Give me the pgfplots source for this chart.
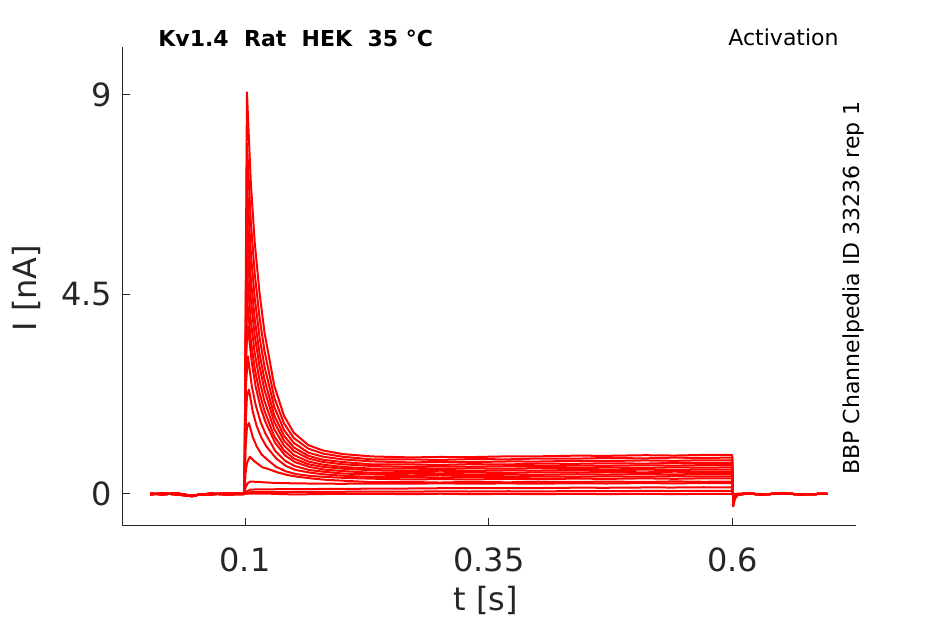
\documentclass[border=0pt]{standalone}
\usepackage{pgfplots}
\pgfplotsset{compat=1.18}
\usepackage{fontspec}
\setmainfont{DejaVu Sans}
\definecolor{axgray}{HTML}{262626}
\pgfplotsset{trace/.style={color=red, line width=1pt, line join=round, mark=none}}
\begin{document}
\begin{tikzpicture}
\useasboundingbox (-61pt,-49pt) rectangle (411.5pt,263pt);
\begin{axis}[
  at={(0,0)}, anchor=south west,
  scale only axis, width=367pt, height=239.5pt,
  xmin=-0.0261, xmax=0.7264, ymin=-0.721, ymax=10.07,
  axis lines=left, axis line style={-, draw=axgray, line width=0.5pt},
  tick align=inside, major tick length=3.8pt,
  tick style={draw=axgray, line width=0.5pt},
  xtick={0.1,0.35,0.6}, ytick={0,4.5,9},
  xticklabels={0.1,0.35,0.6}, yticklabels={0,4.5,9},
  ticklabel style={font=\fontsize{16}{19}\selectfont, text=axgray},
  xticklabel style={anchor=base, yshift=-23pt},
  yticklabel style={anchor=east, xshift=-1.5pt},
]
% T1
\addplot[trace] coordinates {(0.003,0.01) (0.015,-0.01) (0.03,0.015) (0.045,-0.04) (0.052,-0.02) (0.065,0.01) (0.08,-0.01) (0.0995,0.0)
 (0.102,9.05) (0.106,6.99) (0.110,5.66) (0.115,4.51) (0.120,3.64) (0.130,2.44) (0.140,1.76) (0.150,1.38) (0.165,1.10) (0.180,0.98) (0.200,0.90)
 (0.23,0.846) (0.27,0.824) (0.30,0.834) (0.33,0.831) (0.37,0.848) (0.40,0.848) (0.44,0.864) (0.47,0.859) (0.51,0.874) (0.54,0.866) (0.57,0.88) (0.5995,0.88)
 (0.6005,-0.28) (0.602,-0.12) (0.605,-0.02) (0.615,0.01) (0.63,-0.01) (0.65,0.012) (0.67,-0.008) (0.697,0.005)};
% T2
\addplot[trace] coordinates {(0.003,-0.01) (0.015,0.015) (0.03,-0.01) (0.046,-0.05) (0.053,-0.01) (0.065,-0.01) (0.08,0.015) (0.0995,0.01)
 (0.102,7.9) (0.106,6.11) (0.110,4.96) (0.115,3.96) (0.120,3.22) (0.130,2.17) (0.140,1.59) (0.150,1.26) (0.165,1.02) (0.180,0.91) (0.200,0.84)
 (0.23,0.78) (0.27,0.779) (0.30,0.766) (0.33,0.786) (0.37,0.781) (0.40,0.799) (0.44,0.797) (0.47,0.81) (0.51,0.803) (0.54,0.819) (0.57,0.812) (0.5995,0.82)
 (0.6005,-0.26) (0.602,-0.11) (0.605,-0.02) (0.615,0.01) (0.63,-0.01) (0.65,0.012) (0.67,-0.008) (0.697,0.005)};
% T3
\addplot[trace] coordinates {(0.003,0.01) (0.015,-0.01) (0.03,0.015) (0.045,-0.04) (0.052,-0.02) (0.065,0.01) (0.08,-0.01) (0.0995,0.0)
 (0.102,7.0) (0.106,5.42) (0.110,4.41) (0.115,3.52) (0.120,2.87) (0.130,1.96) (0.140,1.44) (0.150,1.15) (0.165,0.93) (0.180,0.84) (0.200,0.78)
 (0.23,0.734) (0.27,0.712) (0.30,0.721) (0.33,0.717) (0.37,0.733) (0.40,0.731) (0.44,0.747) (0.47,0.742) (0.51,0.756) (0.54,0.747) (0.57,0.76) (0.5995,0.76)
 (0.6005,-0.24) (0.602,-0.10) (0.605,-0.02) (0.615,0.01) (0.63,-0.01) (0.65,0.012) (0.67,-0.008) (0.697,0.005)};
% T4
\addplot[trace] coordinates {(0.003,-0.01) (0.015,0.015) (0.03,-0.01) (0.046,-0.05) (0.053,-0.01) (0.065,-0.01) (0.08,0.015) (0.0995,0.01)
 (0.102,6.24) (0.106,4.84) (0.110,3.94) (0.115,3.15) (0.120,2.58) (0.130,1.77) (0.140,1.31) (0.150,1.05) (0.165,0.86) (0.180,0.77) (0.200,0.72)
 (0.23,0.667) (0.27,0.666) (0.30,0.653) (0.33,0.672) (0.37,0.666) (0.40,0.683) (0.44,0.68) (0.47,0.692) (0.51,0.685) (0.54,0.70) (0.57,0.693) (0.5995,0.70)
 (0.6005,-0.22) (0.602,-0.10) (0.605,-0.02) (0.615,0.01) (0.63,-0.01) (0.65,0.012) (0.67,-0.008) (0.697,0.005)};
% T5
\addplot[trace] coordinates {(0.003,0.01) (0.015,-0.01) (0.03,0.015) (0.045,-0.04) (0.052,-0.02) (0.065,0.01) (0.08,-0.01) (0.0995,0.0)
 (0.102,5.63) (0.106,4.37) (0.110,3.56) (0.115,2.86) (0.120,2.34) (0.130,1.62) (0.140,1.20) (0.150,0.97) (0.165,0.80) (0.180,0.72) (0.200,0.67)
 (0.23,0.63) (0.27,0.609) (0.30,0.618) (0.33,0.613) (0.37,0.627) (0.40,0.625) (0.44,0.64) (0.47,0.634) (0.51,0.647) (0.54,0.639) (0.57,0.651) (0.5995,0.65)
 (0.6005,-0.21) (0.602,-0.09) (0.605,-0.015) (0.615,0.01) (0.63,-0.01) (0.65,0.012) (0.67,-0.008) (0.697,0.005)};
% T6
\addplot[trace] coordinates {(0.003,-0.01) (0.015,0.015) (0.03,-0.01) (0.046,-0.05) (0.053,-0.01) (0.065,-0.01) (0.08,0.015) (0.0995,0.01)
 (0.102,5.0) (0.106,3.89) (0.110,3.17) (0.115,2.55) (0.120,2.09) (0.130,1.46) (0.140,1.09) (0.150,0.88) (0.165,0.73) (0.180,0.66) (0.200,0.61)
 (0.23,0.572) (0.27,0.572) (0.30,0.559) (0.33,0.577) (0.37,0.57) (0.40,0.586) (0.44,0.582) (0.47,0.594) (0.51,0.586) (0.54,0.601) (0.57,0.593) (0.5995,0.60)
 (0.6005,-0.19) (0.602,-0.08) (0.605,-0.01) (0.615,0.01) (0.63,-0.01) (0.65,0.012) (0.67,-0.008) (0.697,0.005)};
% T7
\addplot[trace] coordinates {(0.003,0.01) (0.015,-0.01) (0.03,0.015) (0.045,-0.04) (0.052,-0.02) (0.065,0.01) (0.08,-0.01) (0.0995,0.0)
 (0.102,4.43) (0.106,3.45) (0.110,2.82) (0.115,2.27) (0.120,1.87) (0.130,1.30) (0.140,0.98) (0.150,0.80) (0.165,0.67) (0.180,0.61) (0.200,0.57)
 (0.23,0.534) (0.27,0.515) (0.30,0.524) (0.33,0.518) (0.37,0.531) (0.40,0.528) (0.44,0.542) (0.47,0.536) (0.51,0.549) (0.54,0.54) (0.57,0.551) (0.5995,0.55)
 (0.6005,-0.175) (0.602,-0.075) (0.605,-0.01) (0.615,0.01) (0.63,-0.01) (0.65,0.012) (0.67,-0.008) (0.697,0.005)};
% T8
\addplot[trace] coordinates {(0.003,-0.01) (0.015,0.015) (0.03,-0.01) (0.046,-0.05) (0.053,-0.01) (0.065,-0.01) (0.08,0.015) (0.0995,0.01)
 (0.1005,3.0) (0.103,3.78) (0.107,2.95) (0.111,2.41) (0.116,1.95) (0.121,1.62) (0.131,1.15) (0.141,0.87) (0.151,0.72) (0.166,0.61) (0.181,0.55) (0.201,0.515)
 (0.23,0.477) (0.27,0.478) (0.30,0.465) (0.33,0.482) (0.37,0.474) (0.40,0.489) (0.44,0.485) (0.47,0.496) (0.51,0.488) (0.54,0.502) (0.57,0.494) (0.5995,0.50)
 (0.6005,-0.16) (0.602,-0.07) (0.605,-0.01) (0.615,0.01) (0.63,-0.01) (0.65,0.012) (0.67,-0.008) (0.697,0.005)};
% T9
\addplot[trace] coordinates {(0.003,0.01) (0.015,-0.01) (0.03,0.015) (0.045,-0.04) (0.052,-0.02) (0.065,0.01) (0.08,-0.01) (0.0995,0.0)
 (0.1005,2.3) (0.103,3.1) (0.107,2.43) (0.111,2.0) (0.116,1.62) (0.121,1.36) (0.131,0.97) (0.141,0.75) (0.151,0.63) (0.166,0.54) (0.181,0.50) (0.201,0.46)
 (0.23,0.44) (0.27,0.421) (0.30,0.43) (0.33,0.423) (0.37,0.435) (0.40,0.431) (0.44,0.445) (0.47,0.438) (0.51,0.45) (0.54,0.441) (0.57,0.452) (0.5995,0.45)
 (0.6005,-0.14) (0.602,-0.06) (0.605,-0.01) (0.615,0.01) (0.63,-0.01) (0.65,0.012) (0.67,-0.008) (0.697,0.005)};
% T10
\addplot[trace] coordinates {(0.003,-0.01) (0.015,0.015) (0.03,-0.01) (0.046,-0.05) (0.053,-0.01) (0.065,-0.01) (0.08,0.015) (0.0995,0.01)
 (0.1005,1.5) (0.102,2.2) (0.104,2.35) (0.108,1.85) (0.112,1.53) (0.117,1.26) (0.122,1.07) (0.132,0.80) (0.142,0.63) (0.152,0.54) (0.167,0.48) (0.182,0.44) (0.202,0.41)
 (0.23,0.382) (0.27,0.384) (0.30,0.371) (0.33,0.387) (0.37,0.378) (0.40,0.392) (0.44,0.387) (0.47,0.398) (0.51,0.389) (0.54,0.403) (0.57,0.394) (0.5995,0.40)
 (0.6005,-0.13) (0.602,-0.055) (0.605,-0.01) (0.615,0.01) (0.63,-0.01) (0.65,0.012) (0.67,-0.008) (0.697,0.005)};
% T11
\addplot[trace] coordinates {(0.003,0.01) (0.015,-0.01) (0.03,0.015) (0.045,-0.04) (0.052,-0.02) (0.065,0.01) (0.08,-0.01) (0.0995,0.0)
 (0.1005,1.0) (0.102,1.5) (0.104,1.6) (0.108,1.28) (0.112,1.07) (0.117,0.89) (0.122,0.79) (0.132,0.61) (0.142,0.51) (0.152,0.45) (0.167,0.405) (0.182,0.385) (0.202,0.363)
 (0.23,0.345) (0.27,0.327) (0.30,0.336) (0.33,0.328) (0.37,0.339) (0.40,0.334) (0.44,0.347) (0.47,0.34) (0.51,0.352) (0.54,0.342) (0.57,0.352) (0.5995,0.35)
 (0.6005,-0.11) (0.602,-0.05) (0.605,-0.005) (0.615,0.01) (0.63,-0.01) (0.65,0.012) (0.67,-0.008) (0.697,0.005)};
% T12
\addplot[trace] coordinates {(0.003,-0.01) (0.015,0.015) (0.03,-0.01) (0.046,-0.05) (0.053,-0.01) (0.065,-0.01) (0.08,0.015) (0.0995,0.01)
 (0.1005,0.45) (0.102,0.7) (0.105,0.84) (0.109,0.75) (0.113,0.68) (0.118,0.60) (0.123,0.57) (0.133,0.49) (0.143,0.43) (0.153,0.39) (0.168,0.35) (0.183,0.32) (0.203,0.296)
 (0.23,0.267) (0.27,0.27) (0.30,0.258) (0.33,0.273) (0.37,0.263) (0.40,0.276) (0.44,0.27) (0.47,0.28) (0.51,0.271) (0.54,0.284) (0.57,0.275) (0.5995,0.28)
 (0.6005,-0.09) (0.602,-0.04) (0.605,0.0) (0.615,0.01) (0.63,-0.01) (0.65,0.012) (0.67,-0.008) (0.697,0.005)};
% T13
\addplot[trace] coordinates {(0.003,0.01) (0.015,-0.01) (0.03,0.015) (0.045,-0.04) (0.052,-0.02) (0.065,0.01) (0.08,-0.01) (0.0995,0.0)
 (0.1005,0.15) (0.103,0.25) (0.106,0.28) (0.110,0.275) (0.115,0.27) (0.120,0.262) (0.130,0.25) (0.140,0.245) (0.150,0.24) (0.165,0.236) (0.180,0.232) (0.200,0.23)
 (0.23,0.235) (0.27,0.232) (0.30,0.24) (0.33,0.233) (0.37,0.238) (0.40,0.232) (0.44,0.242) (0.47,0.236) (0.51,0.246) (0.54,0.238) (0.57,0.248) (0.5995,0.245)
 (0.6005,-0.07) (0.602,-0.03) (0.605,0.0) (0.615,0.01) (0.63,-0.01) (0.65,0.012) (0.67,-0.008) (0.697,0.005)};
% T14
\addplot[trace] coordinates {(0.003,-0.01) (0.015,0.015) (0.03,-0.01) (0.046,-0.05) (0.053,-0.01) (0.065,-0.01) (0.08,0.015) (0.0995,0.01)
 (0.1005,0.04) (0.104,0.08) (0.106,0.10) (0.120,0.105) (0.150,0.11) (0.200,0.115)
 (0.23,0.12) (0.27,0.124) (0.30,0.13) (0.33,0.133) (0.37,0.135) (0.40,0.134) (0.44,0.142) (0.47,0.14) (0.51,0.147) (0.54,0.146) (0.57,0.152) (0.5995,0.15)
 (0.6005,-0.04) (0.602,-0.02) (0.605,0.0) (0.615,0.01) (0.63,-0.01) (0.65,0.012) (0.67,-0.008) (0.697,0.005)};
% T15
\addplot[trace] coordinates {(0.003,0.01) (0.015,-0.01) (0.03,0.015) (0.045,-0.04) (0.052,-0.02) (0.065,0.01) (0.08,-0.01) (0.0995,0.0)
 (0.102,0.02) (0.106,0.04) (0.150,0.045) (0.200,0.05)
 (0.23,0.055) (0.27,0.052) (0.30,0.061) (0.33,0.056) (0.37,0.062) (0.40,0.058) (0.44,0.066) (0.47,0.063) (0.51,0.07) (0.54,0.066) (0.57,0.072) (0.5995,0.07)
 (0.6005,-0.02) (0.602,-0.01) (0.605,0.0) (0.615,0.01) (0.63,-0.01) (0.65,0.012) (0.67,-0.008) (0.697,0.005)};
% T16
\addplot[trace] coordinates {(0.003,-0.01) (0.015,0.015) (0.03,-0.01) (0.046,-0.05) (0.053,-0.01) (0.065,-0.01) (0.08,0.015) (0.0995,0.01)
 (0.12,0.01) (0.15,-0.01) (0.200,0.005)
 (0.23,0.005) (0.27,-0.004) (0.30,0.006) (0.33,-0.004) (0.37,0.003) (0.40,-0.005) (0.44,0.005) (0.47,-0.003) (0.51,0.005) (0.54,-0.004) (0.57,0.004) (0.5995,0.0)
 (0.6005,0.0) (0.605,0.0) (0.615,0.01) (0.63,-0.01) (0.65,0.012) (0.67,-0.008) (0.697,0.005)};
\end{axis}
\node[anchor=base, inner sep=0pt, font=\fontsize{16}{19}\selectfont, text=axgray] at (182pt,-42.5pt) {t [s]};
\node[rotate=90, anchor=base, inner sep=0pt, font=\fontsize{16}{19}\selectfont, text=axgray] at (-42.5pt,119pt) {I [nA]};
\node[anchor=base west, inner sep=0pt, font=\fontsize{11}{13}\selectfont\bfseries] at (18pt,239.6pt) {Kv1.4~~Rat~~HEK~~35~°C};
\node[anchor=base east, inner sep=0pt, font=\fontsize{11}{13}\selectfont] at (358.5pt,240pt) {Activation};
\node[rotate=90, anchor=base, inner sep=0pt, font=\fontsize{11}{13}\selectfont] at (368.5pt,119pt) {BBP Channelpedia ID 33236 rep 1};
\end{tikzpicture}
\end{document}
